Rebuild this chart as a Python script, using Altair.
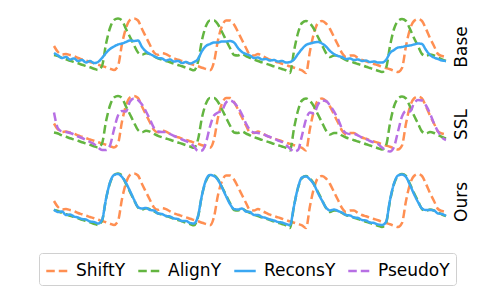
import altair as alt
import pandas as pd

# time axis (samples)
T = list(range(0, 393, 4))

SHIFT_Y = [25, 19, 16.5, 17, 16, 15, 13, 11.7, 10.3, 9, 7.7, 6.3, 5, 3.7, 2.3, 1, 5, 27, 43, 51,
           52.5, 50.5, 42, 34, 26, 18.5, 16.2, 17.8, 16.8, 14.7, 12.7, 11.3, 10, 8.7, 7.3, 6, 4.7, 3.3, 2, 0.7,
           9, 31, 45, 50.5, 50.5, 46.5, 39, 31, 23, 16, 15.5, 17, 15, 13.2, 11.3, 10, 8.6, 7.3, 6, 4.6,
           3.3, 2, 0.6, -2, 20, 38, 48, 50, 47.5, 42, 34, 26, 18, 14, 15.5, 15.5, 13, 11, 9.7, 8.3,
           7, 5.7, 4.3, 3, 1.7, 0.3, -1, 3, 25, 42, 50, 52, 50, 42, 33, 25, 17, 15, 14]

ALIGN_Y = [16, 15, 13, 11.7, 10.3, 9, 7.7, 6.3, 5, 3.7, 2.3, 1, 5, 27, 43, 51, 52.5, 50.5, 42, 34,
           26, 18.5, 16.2, 17.8, 16.8, 14.7, 12.7, 11.3, 10, 8.7, 7.3, 6, 4.7, 3.3, 2, 0.7, 9, 31, 45, 50.5,
           50.5, 46.5, 39, 31, 23, 16, 15.5, 17, 15, 13.2, 11.3, 10, 8.6, 7.3, 6, 4.6, 3.3, 2, 0.6, -2,
           20, 38, 48, 50, 47.5, 42, 34, 26, 18, 14, 15.5, 15.5, 13, 11, 9.7, 8.3, 7, 5.7, 4.3, 3,
           1.7, 0.3, -1, 3, 25, 42, 50, 52, 50, 42, 33, 25, 17, 15, 16.5, 15.5, 13.5, 11.5, 10]

BASE_RECONS_Y = [18, 15.5, 13, 14, 11.5, 12.5, 10, 11, 8.5, 10, 8, 9, 13, 18, 22, 24.5, 26.5, 27.5, 29, 30.5,
                 30, 30.5, 24, 19.5, 17, 15, 13, 12.5, 10.5, 11.5, 9.5, 10, 8, 9, 7.5, 9, 12, 20, 25, 27,
                 28.5, 28.5, 29.5, 29.5, 30, 28.5, 23, 19, 17, 15.5, 13, 13.5, 11.5, 12, 10.5, 11, 9.5, 10, 8.5, 9,
                 11.5, 17, 22, 26, 27.5, 28.5, 29, 27.5, 24.5, 20, 17, 15, 14, 12, 12.5, 11, 11.5, 10, 10.5, 9,
                 9.5, 8.5, 8.5, 11, 18, 21, 23.5, 24, 25, 25.5, 26.5, 27.5, 27, 21, 16, 13.5, 12, 10.5, 10]

SSL_PSEUDO_Y = [36, 20, 17, 16.5, 15.5, 14, 12, 10.5, 8.5, 6.5, 4.5, 1, -1.5, -1.5, 3, 19, 33, 37.5, 37, 47,
                50, 48.5, 44, 37, 29, 20.5, 17, 16.5, 16.5, 14.5, 12.5, 11, 9, 7.5, 5.5, 2, -2.5, -2, 6, 22,
                33, 36, 38, 46, 48, 46, 41, 34, 25, 18.5, 16, 15.5, 15, 13, 11.5, 10, 8, 6.5, 3.5, 0,
                -3, -1.5, 13, 29, 36, 35, 44, 48, 47.5, 43, 37, 29.5, 20, 15.5, 14.5, 14.5, 13, 11, 9.5, 7.5,
                6, 4.5, 1, -2, -3, 1.5, 17, 32, 37.5, 37, 45, 48.5, 48, 43, 35, 25, 17, 11, 8.5]

OURS_RECONS_Y = [16.5, 14, 14.5, 11, 11.5, 9.5, 8.5, 7, 6.5, 4.5, 4, 2.5, 6, 27, 43.5, 51, 52, 49, 43, 35,
                 26.5, 19, 17.5, 18, 16, 15.5, 12.5, 12, 10, 9.5, 7.5, 7, 5, 5, 3, 2.5, 10, 31, 46, 51,
                 50, 46, 38.5, 30, 22, 17, 16.5, 17.5, 14.5, 14, 11, 11, 9, 8, 6.5, 5.5, 4, 3.5, 2, 1,
                 20, 38.5, 48.5, 49.5, 46.5, 41.5, 33, 25.5, 18.5, 15.5, 16.5, 15, 13.5, 11, 10.5, 8.5, 8, 6, 5.5, 3.5,
                 3, 1.5, 1, 4, 26, 42.5, 50.5, 51.5, 49, 41, 32, 24, 17.5, 16, 16, 15.5, 12.5, 12, 10]

ROWS = ["Base", "SSL", "Ours"]
SERIES = ["ShiftY", "AlignY", "ReconsY", "PseudoY"]
COLORS = ["#ff8f52", "#63b540", "#3aa7f2", "#b76fe4"]
DASHES = [[8.5, 4], [8.5, 4], [1, 0], [8.5, 4]]

panel_data = {
    "Base": {"ShiftY": SHIFT_Y, "AlignY": ALIGN_Y, "ReconsY": BASE_RECONS_Y},
    "SSL": {"ShiftY": SHIFT_Y, "AlignY": ALIGN_Y, "PseudoY": SSL_PSEUDO_Y},
    "Ours": {"ShiftY": SHIFT_Y, "AlignY": ALIGN_Y, "ReconsY": OURS_RECONS_Y},
}

records = []
for r in ROWS:
    for s, vals in panel_data[r].items():
        for t, v in zip(T, vals):
            records.append({"row": r, "series": s, "t": t, "v": v})
df = pd.DataFrame(records)

def make_legend():
    return alt.Legend(title=None, orient="none", legendX=-15, legendY=239,
                      direction="horizontal", columns=4,
                      symbolType="stroke", symbolSize=460, symbolStrokeWidth=2.5,
                      labelFont="DejaVu Sans", labelFontSize=17, labelColor="black",
                      labelOffset=7, columnPadding=7, padding=6,
                      strokeColor="#d0d0d0", cornerRadius=3, fillColor="white")

def layer_for(s):
    return alt.Chart().mark_line(strokeWidth=2.5, interpolate="monotone").encode(
        x=alt.X("t:Q", axis=None, scale=alt.Scale(domain=[0, 392], nice=False, zero=False)),
        y=alt.Y("v:Q", axis=None, scale=alt.Scale(domain=[-9, 57], nice=False, zero=False)),
        color=alt.Color("series:N", scale=alt.Scale(domain=SERIES, range=COLORS), legend=make_legend()),
        strokeDash=alt.StrokeDash("series:N", scale=alt.Scale(domain=SERIES, range=DASHES), legend=make_legend()),
    ).transform_filter(alt.datum.series == s)

layers = alt.layer(*[layer_for(s) for s in SERIES], data=df).properties(width=392, height=66)

chart = layers.facet(
    row=alt.Row("row:N", sort=ROWS, title=None,
                header=alt.Header(labelOrient="right", labelAngle=270, labelFont="DejaVu Sans",
                                  labelFontSize=17, labelColor="black", labelPadding=3)),
    spacing=10.5,
).properties(
    padding={"left": 30, "top": 5, "right": 5, "bottom": 5}
).configure_view(stroke=None)

chart.save("out.html", embed_options={"renderer": "svg", "actions": False})
